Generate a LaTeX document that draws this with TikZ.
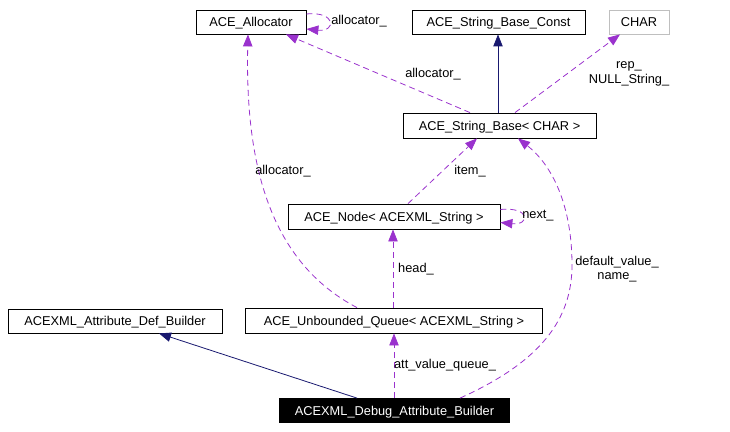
\documentclass[tikz,border=0pt]{standalone}
\usepackage{fontspec}
\setmainfont{Liberation Sans}
\usetikzlibrary{arrows.meta}
\definecolor{edgep}{HTML}{9A32CD}
\definecolor{edgen}{HTML}{191970}
\definecolor{grayb}{HTML}{BFBFBF}
\begin{document}
\begin{tikzpicture}[x=0.75pt,y=-0.75pt,
  font=\fontsize{9.6}{11}\selectfont,
  box/.style={draw=black,line width=0.6pt,inner sep=0pt,text height=6.9pt,text depth=0pt,minimum height=24*0.75pt,anchor=center},
  lbl/.style={inner sep=0pt,align=center},
  rel/.style={draw=edgep,line width=0.6pt,dash pattern=on 4.5pt off 3pt,-{Triangle[length=9pt,width=7pt]},fill=none},
  inh/.style={draw=edgen,line width=0.6pt,-{Triangle[length=9pt,width=7pt]}}]
\useasboundingbox (0,0) rectangle (730,431);
% nodes
\node[box,minimum width=110*0.75pt] (alloc) at (251,22) {ACE\_Allocator};
\node[box,minimum width=173*0.75pt] (sbc) at (498.5,22) {ACE\_String\_Base\_Const};
\node[box,draw=grayb,minimum width=60*0.75pt] (char) at (639,22) {CHAR};
\node[box,minimum width=193*0.75pt,minimum height=25*0.75pt] (sb) at (499.5,125.5) {ACE\_String\_Base< CHAR >};
\node[box,minimum width=212*0.75pt,minimum height=25*0.75pt] (nd) at (394,216.5) {ACE\_Node< ACEXML\_String >};
\node[box,minimum width=297*0.75pt,minimum height=25*0.75pt] (queue) at (394,320.5) {ACE\_Unbounded\_Queue< ACEXML\_String >};
\node[box,minimum width=214*0.75pt] (def) at (115,321) {ACEXML\_Attribute\_Def\_Builder};
\node[box,fill=black,text=white,minimum width=230*0.75pt] (debug) at (394.5,410.5) {ACEXML\_Debug\_Attribute\_Builder};
% edges
\draw[inh] ([xshift=-37.5*0.75pt]debug.north) -- ([xshift=44*0.75pt]def.south);
\draw[rel] ([xshift=-0.5*0.75pt]debug.north) -- (queue.south);
\draw[rel] ([xshift=65.5*0.75pt]debug.north) .. controls (540,362) and (572,320) .. (572,265)
  .. controls (572,205) and (552,165) .. ([xshift=18.5*0.75pt]sb.south);
\draw[rel] ([xshift=-1*0.75pt]queue.north) -- ([xshift=-1*0.75pt]nd.south);
\draw[rel] ([xshift=-37*0.75pt]queue.north) .. controls (270,262) and (245,165) .. ([xshift=-3*0.75pt]alloc.south);
\draw[rel] ([xshift=14*0.75pt]nd.north) -- ([xshift=-22.5*0.75pt]sb.south);
\draw[rel] ([xshift=-29.5*0.75pt]sb.north) -- ([xshift=35*0.75pt]alloc.south);
\draw[inh] ([xshift=-1.5*0.75pt]sb.north) -- ([xshift=-0.5*0.75pt]sbc.south);
\draw[rel] ([xshift=15.5*0.75pt]sb.north) -- ([xshift=-19*0.75pt]char.south);
\draw[rel] ([yshift=8*0.75pt]alloc.east) .. controls +(30,-3) and +(30,3) .. ([yshift=-7*0.75pt]alloc.east);
\draw[rel] ([yshift=7*0.75pt]nd.east) .. controls +(30,-3) and +(30,3) .. ([yshift=-6*0.75pt]nd.east);
% labels
\node[lbl,anchor=west] (l1) at (331,21) {allocator\_};
\node[lbl] (l2) at (433,74) {allocator\_};
\node[lbl] (l3) at (629,74) {rep\_\\NULL\_String\_};
\node[lbl] (l4) at (283,171) {allocator\_};
\node[lbl] (l5) at (470,171) {item\_};
\node[lbl,anchor=west] (l6) at (522,216) {next\_};
\node[lbl] (l7) at (416,269) {head\_};
\node[lbl] (l8) at (617,269) {default\_value\_\\name\_};
\node[lbl] (l9) at (445,365) {att\_value\_queue\_};
\end{tikzpicture}
\end{document}
